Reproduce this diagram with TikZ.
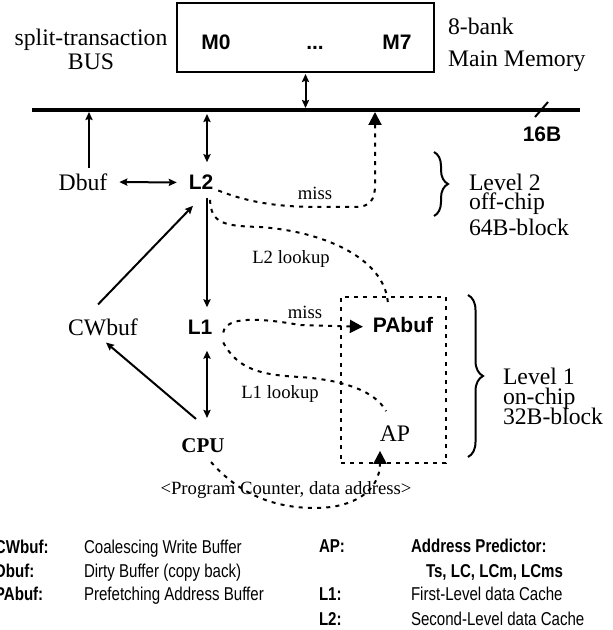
\documentclass[tikz,border=0pt]{standalone}
\usepackage{fontspec}
\setmainfont{Liberation Serif}
\setsansfont{Liberation Sans}
\newfontfamily\narrowsans[FakeStretch=0.81]{Liberation Sans}
\usetikzlibrary{arrows.meta,decorations.pathreplacing}

\begin{document}
\begin{tikzpicture}[x=0.5pt, y=-0.5pt, line width=1pt, inner sep=0pt,
  >={Stealth[length=4pt,width=3.6pt,inset=0.6pt]},
  txt/.style={font=\fontsize{11.85}{14}\selectfont},
  note/.style={font=\fontsize{9.35}{11}\selectfont},
  unit/.style={font=\fontsize{10.5}{12}\sffamily\bfseries},
  probe/.style={dash pattern=on 2pt off 2.6pt},
  tipped/.style={probe, -{Triangle[length=6.5pt,width=6.5pt]}},
  key/.style={font=\fontsize{9.3}{11}\narrowsans\bfseries, anchor=base west},
  desc/.style={font=\fontsize{9.3}{11}\narrowsans, anchor=base west},
  brc/.style={decorate, decoration={brace, amplitude=#1}}]
\useasboundingbox (0,0) rectangle (613,630);
\node[draw, minimum width=128.5pt, minimum height=34.5pt] (mem) at (305.5,37.5) {};
\node[unit, anchor=base] (m0) at (216,50) {M0};
\node[unit, anchor=base] (mdots) at (315,50) {...};
\node[unit, anchor=base] (m7) at (397,50) {M7};
\node[txt, align=center, anchor=north, font=\fontsize{11.85}{12}\selectfont] (busname) at (91,28) {split-transaction\\BUS};
\node[txt, align=left, anchor=north west, font=\fontsize{11.85}{16}\selectfont] (bank) at (447,17) {8-bank\\Main Memory};
\coordinate (busL) at (32,110); \coordinate (busR) at (580,110);
\draw[line width=2pt] (busL) -- (busR);
\draw (535,117) -- (548,102);
\node[unit] (width) at (542,134) {16B};
\node[txt] (dbuf) at (83,182) {Dbuf};
\node[unit] (l2) at (201,182.5) {L2};
\node[txt] (cwbuf) at (103,327) {CWbuf};
\node[unit] (l1) at (200,327.5) {L1};
\node[font=\fontsize{10.5}{12}\bfseries] (cpu) at (203,446) {CPU};
\node[unit] (pabuf) at (403,325) {PAbuf};
\node[txt] (ap) at (395,434) {AP};
\node[draw, probe, minimum width=52.5pt, minimum height=83pt] (onchip) at (393.5,380) {};
\coordinate (spine) at (207,0);
\coordinate (l2miss) at (375,112);
\draw[<->, shorten <=0.5pt, shorten >=1pt] (mem.south) -- (mem.south |- busL);
\draw[->, shorten <=2.5pt, shorten >=1pt] ([xshift=3pt]dbuf.north) -- ([xshift=3pt]dbuf.north |- busL);
\draw[<->, shorten <=2pt, shorten >=6pt] (spine |- busL) -- (spine |- l2.north);
\draw[<->, shorten <=5.5pt, shorten >=5.5pt] (dbuf.east) -- (l2.west);
\draw[->, shorten <=3.5pt, shorten >=6pt] (spine |- l2.south) -- (spine |- l1.north);
\draw[<->, shorten <=7.5pt, shorten >=10pt] (spine |- l1.south) -- (spine |- cpu.north);
\draw[->] ([shift={(-5,-13)}]cwbuf.north) -- ([shift={(-8,15)}]l2.south);
\draw[->] ([shift={(-7,-19)}]cpu.north) -- ([shift={(3,6)}]cwbuf.south);
\draw[tipped] ([shift={(4,8)}]l2.east) .. controls (250,203) and (280,207) .. (320,207) -- (355,207) .. controls (370,207) and (375,200) .. (375,185) -- (l2miss);
\node[note] (miss2) at (315,193) {miss};
\draw[probe] ([shift={(9,9)}]l2.south) .. controls (211,224) and (225,226) .. (260,227) .. controls (330,232) and (388,262) .. ([shift={(-15,-10)}]pabuf.north);
\node[note] (look2) at (291,259) {L2 lookup};
\draw[tipped, shorten >=4.5pt] ([shift={(10,5)}]l1.east) .. controls (226,316) and (260,318) .. (300,325) -- ([yshift=-1pt]pabuf.west);
\node[note] (miss1) at (305,312) {miss};
\draw[probe] ([shift={(10,15)}]l1.east) .. controls (238,370) and (262,375) .. (300,377) .. controls (345,380) and (376,392) .. ([shift={(-9,-14)}]ap.north);
\node[note] (look1) at (280,394) {L1 lookup};
\draw[tipped] ([shift={(8,8)}]cpu.south) .. controls (240,495) and (275,508) .. (315,508) .. controls (355,508) and (380,490) .. ([shift={(-15,8)}]ap.south);
\node[note] (pc) at (286,490) {<Program Counter, data address>};
\draw[brc=7pt] (434,152) -- (434,216);
\node[txt, align=left, anchor=north west, font={\fontsize{11.85}{9.5}\selectfont\lineskiplimit=-10pt}] (lvl2) at (468,173) {Level 2\\off-chip\\[3.5pt]64B-block};
\draw[brc=7.5pt] (468,295) -- (468,457);
\node[txt, align=left, anchor=north west, font={\fontsize{11.85}{10}\selectfont\lineskiplimit=-10pt}] (lvl1) at (502,367) {Level 1\\on-chip\\32B-block};
\foreach \y/\k/\d in {553/CWbuf:/Coalescing Write Buffer, 577/Dbuf:/Dirty Buffer (copy back), 600/PAbuf:/Prefetching Address Buffer}
  {\node[key] (key\y) at (-6,\y) {\k}; \node[desc] (desc\y) at (83,\y) {\d};}
\node[key] (apkey) at (318,552) {AP:};
\node[key] (apdesc) at (410,552) {Address Predictor:};
\node[key] (apkinds) at (425,577) {Ts, LC, LCm, LCms};
\foreach \y/\k/\d in {600/L1:/First-Level data Cache, 625/L2:/Second-Level data Cache}
  {\node[key] (rkey\y) at (318,\y) {\k}; \node[desc] (rdesc\y) at (410,\y) {\d};}
\end{tikzpicture}
\end{document}
